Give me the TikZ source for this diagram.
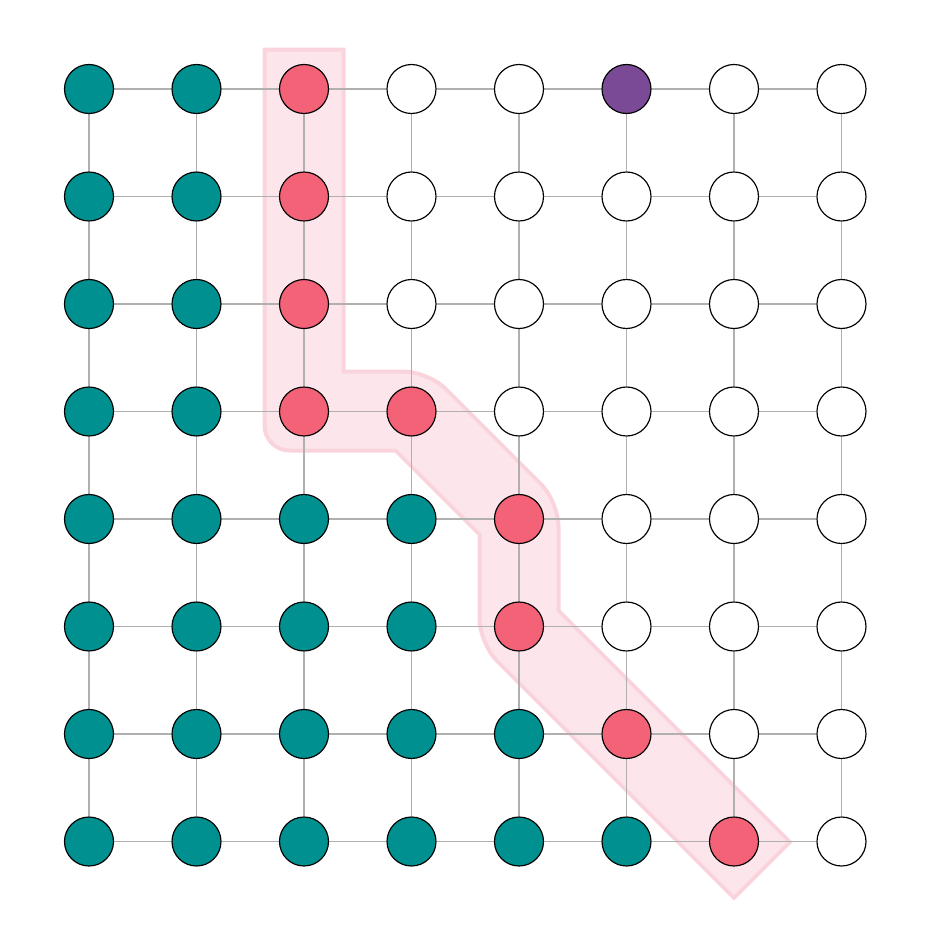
\documentclass[tikz,border=0pt]{standalone}
\definecolor{tealc}{RGB}{0,144,144}
\definecolor{pinkc}{RGB}{244,98,120}
\definecolor{purplec}{RGB}{123,74,150}
\definecolor{bandfill}{RGB}{252,230,235}
\definecolor{bandedge}{RGB}{250,212,220}
\definecolor{gridc}{RGB}{176,176,176}
\pgfdeclarelayer{bandlayer}
\pgfdeclarelayer{gridlayer}
\pgfsetlayers{bandlayer,gridlayer,main}
\begin{document}
\begin{tikzpicture}[x=0.03cm,y=-0.03cm,
  dot/.style={circle,draw=black,line width=0.035cm,minimum size=1.47cm,inner sep=0pt},
  clt/.style={fill=tealc},
  clp/.style={fill=pinkc},
  clu/.style={fill=purplec},
  clw/.style={fill=white},
  gridline/.style={draw=gridc,line width=0.045cm},
  band/.style={fill=bandfill,draw=bandedge,line width=0.12cm}]
\useasboundingbox (0,0) rectangle (931,950);
\foreach \row [count=\r from 0] in {
  {clt,clt,clp,clw,clw,clu,clw,clw},
  {clt,clt,clp,clw,clw,clw,clw,clw},
  {clt,clt,clp,clw,clw,clw,clw,clw},
  {clt,clt,clp,clp,clw,clw,clw,clw},
  {clt,clt,clt,clt,clp,clw,clw,clw},
  {clt,clt,clt,clt,clp,clw,clw,clw},
  {clt,clt,clt,clt,clt,clp,clw,clw},
  {clt,clt,clt,clt,clt,clt,clp,clw}}{
  \foreach \s [count=\k from 0] in \row {
    \node[dot,\s] (n-\r-\k) at ({89+107.5*\k},{89+107.5*\r}) {};
  }
}
\begin{pgfonlayer}{gridlayer}
\foreach \r in {0,...,7}{
  \foreach \k [evaluate=\k as \kk using int(\k+1)] in {0,...,6}{
    \draw[gridline] (n-\r-\k) -- (n-\r-\kk);
    \draw[gridline] (n-\k-\r) -- (n-\kk-\r);
  }
}
\end{pgfonlayer}
\begin{pgfonlayer}{bandlayer}
\path[band] (343.5,49.5) -- (343.5,371.5) [rounded corners=0.75cm] -- (428.4,371.5) -- (558.5,501.6) [sharp corners] -- (558.5,610.6) -- (789.9,842) -- (734,897.9) [rounded corners=0.75cm] -- (479.5,643.4) [sharp corners] -- (479.5,534.4) -- (395.6,450.5) [rounded corners=0.75cm] -- (264.5,450.5) [sharp corners] -- (264.5,49.5) -- cycle;
\end{pgfonlayer}
\end{tikzpicture}
\end{document}
